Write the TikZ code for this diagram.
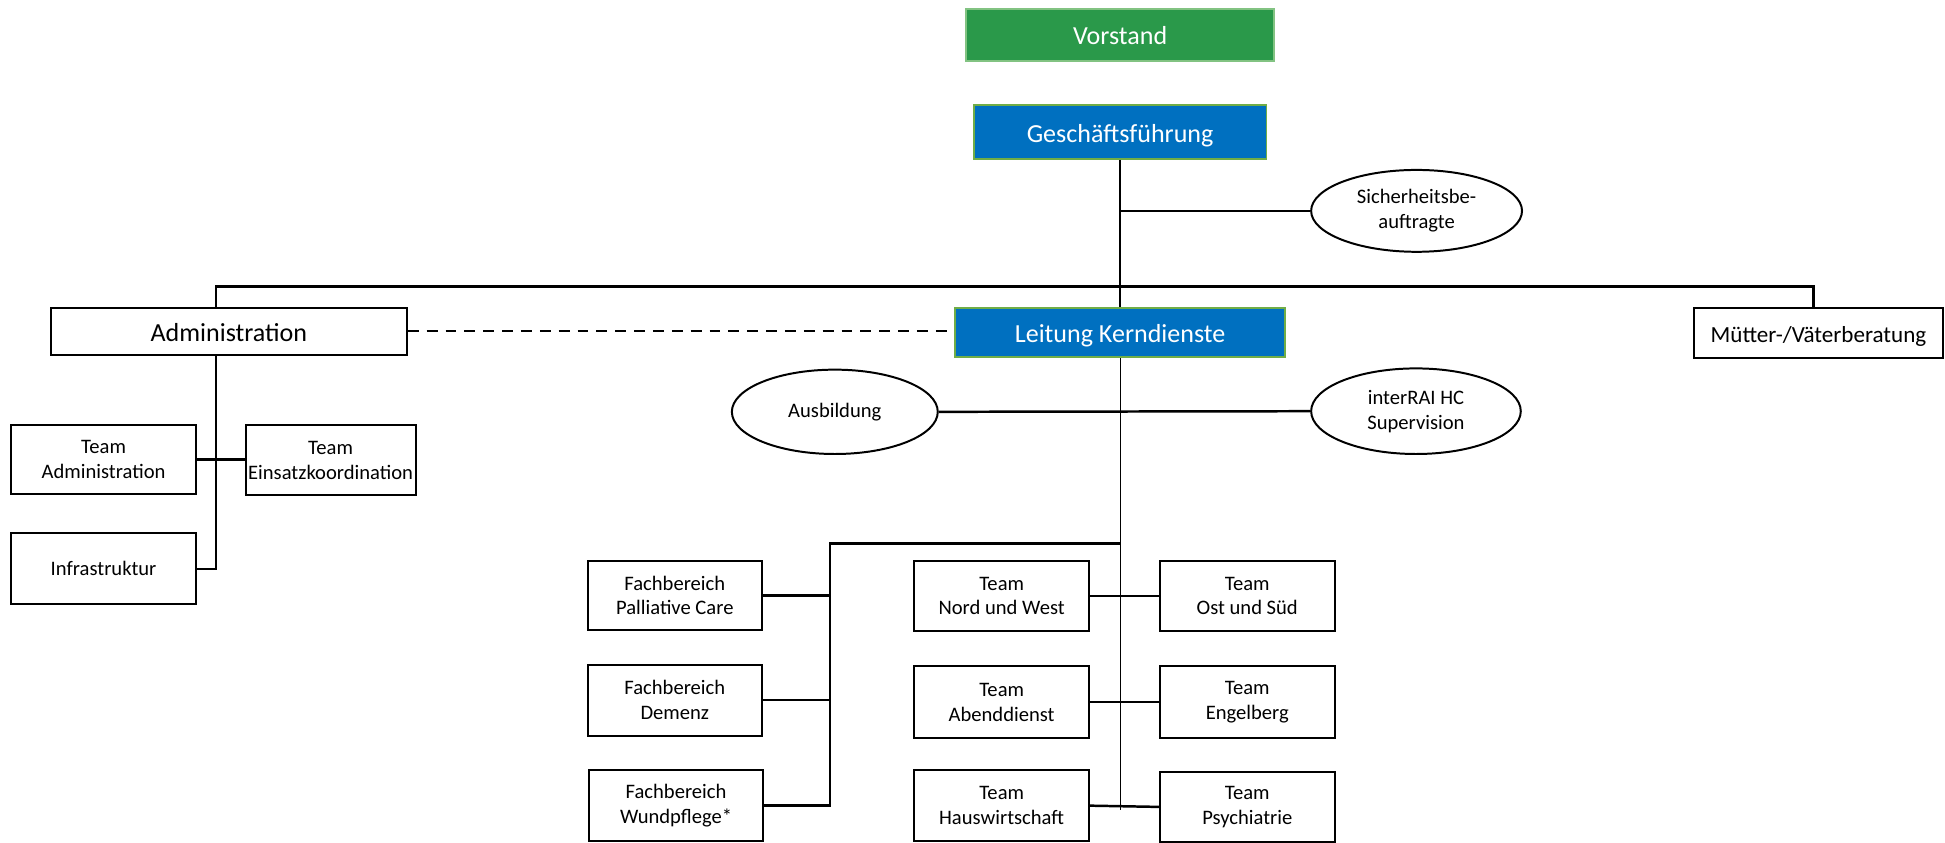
\documentclass[tikz,border=0pt]{standalone}
\usepackage{fontspec}
\setmainfont{Carlito}
\usetikzlibrary{shapes.geometric,calc}
\definecolor{vgreen}{RGB}{42,153,74}
\definecolor{vgborder}{RGB}{130,195,130}
\definecolor{mblue}{RGB}{0,112,192}
\definecolor{mbborder}{RGB}{112,173,71}
\tikzset{
  big/.style={font=\fontsize{10.5}{12.6}\selectfont, text height=0.8em, text depth=0pt},
  small/.style={font=\fontsize{8.3}{10}\selectfont},
  plainbox/.style={draw=black, line width=0.8pt, fill=white, align=center, inner sep=1pt},
  greenbox/.style={draw=vgborder, line width=0.8pt, fill=vgreen, text=white, align=center, big},
  bluebox/.style={draw=mbborder, line width=0.8pt, fill=mblue, text=white, align=center, big},
  oval/.style={ellipse, draw=black, line width=0.8pt, fill=white, align=center, inner sep=0pt, small},
  conn/.style={draw=black, line width=1pt},
  thinconn/.style={draw=black, line width=0.45pt},
  dashconn/.style={draw=black, line width=1pt, dash pattern=on 4.4pt off 3.2pt},
}
\begin{document}
\begin{tikzpicture}[x=0.5pt, y=-0.5pt]
\useasboundingbox (0,0) rectangle (1568,679);
% top boxes
\node[greenbox, minimum width=124pt, minimum height=21pt] (vs) at (903,28) {Vorstand};
\node[bluebox, minimum width=118pt, minimum height=21.5pt] (gf) at (903,106.5) {Geschäftsführung};
\node[bluebox, minimum width=133pt, minimum height=20pt] (lk) at (903,268) {Leitung Kerndienste};
\node[plainbox, big, minimum width=143.5pt, minimum height=19pt] (adm) at (184.5,267) {Administration};
\node[plainbox, font=\fontsize{9.3}{11}\selectfont, text height=0.8em, text depth=0pt, minimum width=100pt, minimum height=20.5pt] (mv) at (1466,268.5) {Mütter-/Väterberatung};
% ellipses
\node[oval, minimum width=85pt, minimum height=33pt] (sb) at (1142,170) {Sicherheitsbe-\\auftragte};
\node[oval, minimum width=83pt, minimum height=34pt] (ab) at (673,332) {Ausbildung};
\node[oval, minimum width=84.5pt, minimum height=34.5pt] (ir) at (1141.5,331.5) {interRAI HC\\Supervision};
% administration subtree
\node[plainbox, small, minimum width=74.5pt, minimum height=27.5pt] (ta) at (83.5,370.5) {Team\\Administration};
\node[plainbox, small, minimum width=68.5pt, minimum height=28pt, inner sep=0pt] (te) at (266.5,371) {Team\\Einsatzkoordination};
\node[plainbox, small, minimum width=74.5pt, minimum height=28.5pt] (inf) at (83.5,458.5) {Infrastruktur};
% Fachbereiche
\node[plainbox, small, minimum width=70pt, minimum height=28pt] (pc) at (544,480) {Fachbereich\\Palliative Care};
\node[plainbox, small, minimum width=70pt, minimum height=28.5pt] (dm) at (544,564.5) {Fachbereich\\Demenz};
\node[plainbox, small, minimum width=70pt, minimum height=28.5pt] (wp) at (545,649.5) {Fachbereich\\Wundpflege*};
% Teams
\node[plainbox, small, minimum width=70.5pt, minimum height=28.5pt] (nw) at (807.5,480.5) {Team\\Nord und West};
\node[plainbox, small, minimum width=70.5pt, minimum height=28.5pt] (os) at (1005.5,480.5) {Team\\Ost und Süd};
\node[plainbox, small, minimum width=70.5pt, minimum height=29pt] (ad) at (807.5,566) {Team\\Abenddienst};
\node[plainbox, small, minimum width=70.5pt, minimum height=29pt] (eb) at (1005.5,566) {Team\\Engelberg};
\node[plainbox, small, minimum width=70.5pt, minimum height=28.5pt] (hw) at (807.5,649.5) {Team\\Hauswirtschaft};
\node[plainbox, small, minimum width=70.5pt, minimum height=28.5pt] (ps) at (1005.5,650.5) {Team\\Psychiatrie};
% coordinates
\coordinate (busL) at (174,231);
\coordinate (busR) at (1462,231);
\coordinate (admv) at (174,286);
\coordinate (lkend) at (903,653);
\coordinate (fbx) at (669,438);
% connectors
\draw[conn] (gf.south) -- (lk.north);
\draw[conn] (gf.south |- sb.west) -- (sb.west);
\draw[conn] (adm.north -| busL) |- (busR) -- (busR |- mv.north);
\draw[dashconn] (adm.east) -- (adm.east -| lk.west);
\draw[thinconn] (lk.south) -- (lkend);
\draw[conn] (ab.east) -- (ir.west);
\draw[conn] (admv) |- (inf.east);
\draw[conn] (ta.east) -- (ta.east -| te.west);
\draw[conn] (lk.south |- fbx) -- (fbx) -- (fbx |- wp.east) -- (wp.east);
\draw[conn] (pc.east) -- (pc.east -| fbx);
\draw[conn] (dm.east) -- (dm.east -| fbx);
\draw[conn] (nw.east) -- (os.west);
\draw[conn] (ad.east) -- (eb.west);
\draw[conn] (hw.east) -- (ps.west);
\end{tikzpicture}
\end{document}
